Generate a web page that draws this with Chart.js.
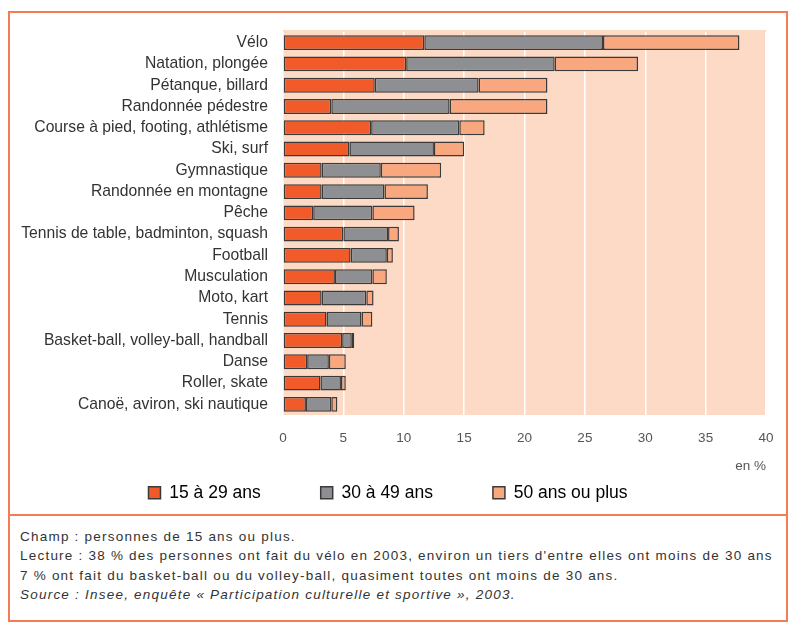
<!DOCTYPE html>
<html lang="fr">
<head>
<meta charset="utf-8">
<title>Pratiques sportives par âge</title>
<script src="https://cdn.jsdelivr.net/npm/chart.js@4"></script>
<style>
  html, body { margin: 0; padding: 0; background: #fff; }
  body { width: 789px; height: 623px; position: relative; overflow: hidden; font-family: "Liberation Sans", Arial, sans-serif; }
  #frame { position: absolute; left: 8px; top: 11px; width: 776px; height: 607px; border: 2px solid #f47c52; }
  #sep { position: absolute; left: 8px; top: 514px; width: 780px; height: 2px; background: #f47c52; }
  #chartBox { position: absolute; left: 0; top: 0; width: 789px; height: 514px; }
  #notes { position: absolute; left: 20px; top: 527px; width: 765px; font-size: 13.5px; letter-spacing: 1.22px; line-height: 19.3px; color: #333; white-space: nowrap; }
  #notes .src { font-style: italic; }
</style>
</head>
<body>
<div id="frame"></div>
<div id="sep"></div>
<div id="chartBox"><canvas id="sportChart" width="789" height="514"></canvas></div>
<div id="notes">
  <div>Champ : personnes de 15 ans ou plus.</div>
  <div>Lecture : 38 % des personnes ont fait du vélo en 2003, environ un tiers d'entre elles ont moins de 30 ans</div>
  <div>7 % ont fait du basket-ball ou du volley-ball, quasiment toutes ont moins de 30 ans.</div>
  <div class="src">Source : Insee, enquête « Participation culturelle et sportive », 2003.</div>
</div>

<script>
// sports, from most to least practised
const sports = [
  "Vélo", "Natation, plongée", "Pétanque, billard", "Randonnée pédestre",
  "Course à pied, footing, athlétisme", "Ski, surf", "Gymnastique",
  "Randonnée en montagne", "Pêche", "Tennis de table, badminton, squash",
  "Football", "Musculation", "Moto, kart", "Tennis",
  "Basket-ball, volley-ball, handball", "Danse", "Roller, skate",
  "Canoë, aviron, ski nautique"
];

// share of the population (en %)
const age15to29 = [11.7, 10.2, 7.6, 4.0, 7.3, 5.5, 3.2, 3.2, 2.5, 5.0, 5.6, 4.3, 3.2, 3.6, 4.9, 2.0, 3.1, 1.9];
const age30to49 = [14.8, 12.3, 8.6, 9.8, 7.3, 7.0, 4.9, 5.2, 4.9, 3.7, 3.0, 3.1, 3.7, 2.9, 0.8, 1.8, 1.7, 2.1];
const age50plus = [11.3, 6.9, 5.7, 8.1, 2.1, 2.5, 5.0, 3.6, 3.5, 0.9, 0.5, 1.2, 0.6, 0.9, 0.2, 1.4, 0.4, 0.5];

const seriesNames = ["15 à 29 ans", "30 à 49 ans", "50 ans ou plus"];
const xTicks = [0, 5, 10, 15, 20, 25, 30, 35, 40];

// peach background behind the plot area
const plotBackground = {
  id: "plotBackground",
  beforeDraw(chart) {
    const { ctx, chartArea } = chart;
    ctx.save();
    ctx.fillStyle = "#fddac6";
    ctx.fillRect(chartArea.left, chartArea.top - 2, chartArea.right - chartArea.left, chartArea.bottom - chartArea.top + 2);
    ctx.restore();
  }
};

// wide gaps between legend items, but keep the legend band short
const LEGEND_GAP = 60;
const shortLegend = {
  id: "shortLegend",
  beforeInit(chart) {
    const fit = chart.legend.fit;
    chart.legend.fit = function () {
      fit.bind(this)();
      this.height = 40;
    };
  },
  afterLayout(chart) {
    // items are drawn at top + padding, pull them back into the band
    chart.legend.top -= LEGEND_GAP - 10;
  }
};

const barStyle = { borderColor: "#3a3a3a", borderWidth: 1.5, borderSkipped: false };

const ctx = document.getElementById("sportChart").getContext("2d");
new Chart(ctx, {
  type: "bar",
  data: {
    labels: sports,
    datasets: [
      { label: seriesNames[0], data: age15to29, backgroundColor: "#f15a29", ...barStyle },
      { label: seriesNames[1], data: age30to49, backgroundColor: "#8e8f92", ...barStyle },
      { label: seriesNames[2], data: age50plus, backgroundColor: "#f8a77f", ...barStyle }
    ]
  },
  options: {
    indexAxis: "y",
    responsive: false,
    animation: false,
    devicePixelRatio: 1,
    barPercentage: 0.7,
    categoryPercentage: 1,
    layout: { padding: { left: 10, right: 23, top: 32, bottom: 0 } },
    scales: {
      x: {
        stacked: true,
        min: 0,
        max: 40,
        afterBuildTicks(scale) { scale.ticks = xTicks.map(v => ({ value: v })); },
        afterFit(scale) { scale.height = 59; },
        grid: { color: "#ffffff", lineWidth: 1.5, drawTicks: false },
        border: { display: false },
        ticks: { color: "#555", font: { family: "Liberation Sans", size: 13.5 }, padding: 15 },
        title: {
          display: true, text: "en %", align: "end", color: "#555",
          font: { family: "Liberation Sans", size: 13.5 }, padding: { top: 4, bottom: 0 }
        }
      },
      y: {
        stacked: true,
        afterFit(scale) { scale.width = 273; },
        grid: { display: false, drawTicks: false },
        border: { display: false },
        ticks: { color: "#333", font: { family: "Liberation Sans", size: 15.7 }, padding: 15, autoSkip: false }
      }
    },
    plugins: {
      legend: {
        position: "bottom",
        labels: {
          boxWidth: 12, boxHeight: 12, padding: LEGEND_GAP, color: "#333",
          font: { family: "Liberation Sans", size: 17.5 },
          generateLabels(chart) {
            return chart.data.datasets.map((ds, i) => ({
              text: ds.label, fillStyle: ds.backgroundColor, strokeStyle: "#3a3a3a",
              lineWidth: 1.5, datasetIndex: i, hidden: false
            }));
          }
        }
      },
      tooltip: { enabled: false }
    }
  },
  plugins: [plotBackground, shortLegend]
});
</script>
</body>
</html>
